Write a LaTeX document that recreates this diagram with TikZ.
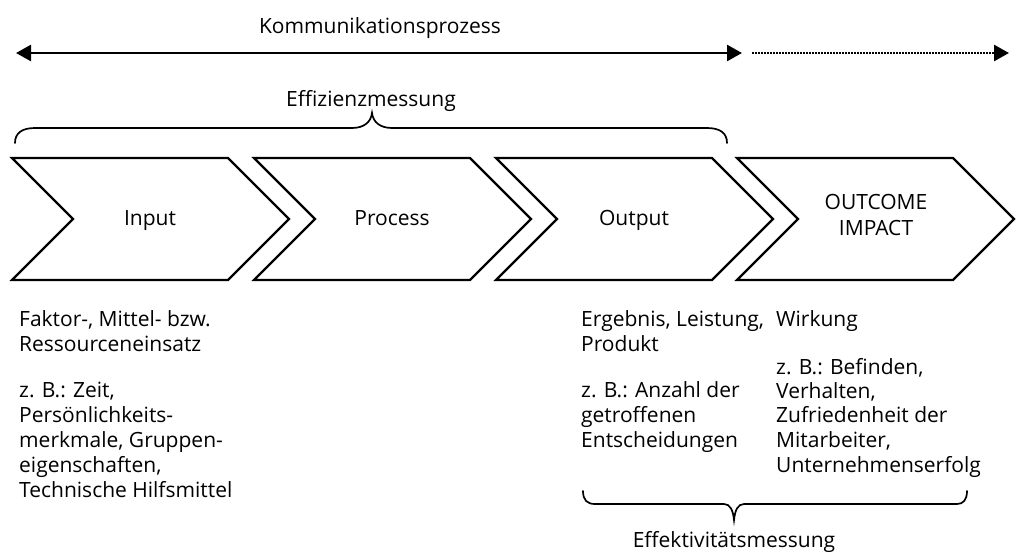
\documentclass[tikz,border=0pt]{standalone}
\usepackage{fontspec}
\setmainfont{Open Sans}
\usetikzlibrary{arrows.meta}
\tikzset{headtip/.tip={Triangle[length=15pt,width=16pt]}}
\begin{document}
\begin{tikzpicture}[x=1pt,y=-1pt,
  txt/.style={inner sep=0pt, font=\fontsize{21}{25}\selectfont, text=black},
  line/.style={txt, anchor=base west},
  chevron/.style={draw=black, line width=2.2pt, line join=miter},
  brace/.style={draw=black, line width=1.7pt, line cap=round},
  flow/.style={line width=2.6pt},
]
\useasboundingbox (0,0) rectangle (1016,557);

% process chain of four chevrons
\foreach \l in {12,254,496,737}{
  \draw[chevron] (\l,158) -- ++(216,0) -- ++(61,61) -- ++(-61,61)
    -- ++(-216,0) -- ++(61,-61) -- cycle;
}
\node[txt, anchor=base] (inp)  at (150,225) {Input};
\node[txt, anchor=base] (pro)  at (392,225) {Process};
\node[txt, anchor=base] (out)  at (634,225) {Output};
\node[txt, anchor=base] (imp1) at (876,209) {OUTCOME};
\node[txt, anchor=base] (imp2) at (876,235) {IMPACT};

% communication process arrow
\node[txt, anchor=base] (komm) at (380,33) {Kommunikationsprozess};
\coordinate (kL) at (16,53);
\coordinate (kR) at (742,53);
\coordinate (dL) at (752,53);
\coordinate (dR) at (1009,53);
\draw[flow, headtip-headtip] (kL) -- (kR);
\draw[flow, dash pattern=on 1.6pt off 1.4pt, -headtip] (dL) -- (dR);

% efficiency brace
\node[txt, anchor=base] (eff) at (371,106) {Effizienzmessung};
\draw[brace] (15,143) .. controls (15,133) and (22,128) .. (35,128) -- (352,128)
  .. controls (364,128) and (371,122) .. (372,113)
  .. controls (373,122) and (380,128) .. (392,128) -- (707,128)
  .. controls (720,128) and (727,133) .. (727,143);

% effectiveness brace
\draw[brace] (583,491) .. controls (583,500) and (587,504) .. (595,504) -- (724,504)
  .. controls (730,504) and (733,510) .. (734,520)
  .. controls (735,510) and (738,504) .. (744,504) -- (957,504)
  .. controls (963,504) and (967,500) .. (967,491);
\node[txt, anchor=base] (effk) at (734,547) {Effektivitätsmessung};

% descriptions below the chain
\foreach \y/\t [count=\i] in {326/{Faktor-, Mittel- bzw.}, 351/{Ressourceneinsatz},
    397/{z. B.: Zeit,}, 422/{Persönlichkeits-}, 447/{merkmale, Gruppen-},
    472/{eigenschaften,}, 497/{Technische Hilfsmittel}}{
  \node[line] (a\i) at (19,\y) {\t};
}
\foreach \y/\t [count=\i] in {326/{Ergebnis, Leistung,}, 351/{Produkt},
    397/{z. B.: Anzahl der}, 422/{getroffenen}, 447/{Entscheidungen}}{
  \node[line] (c\i) at (581,\y) {\t};
}
\foreach \y/\t [count=\i] in {326/{Wirkung}, 374/{z. B.: Befinden,},
    398/{Verhalten,}, 422/{Zufriedenheit der}, 447/{Mitarbeiter,},
    472/{Unternehmenserfolg}}{
  \node[line] (d\i) at (776,\y) {\t};
}
\end{tikzpicture}
\end{document}
